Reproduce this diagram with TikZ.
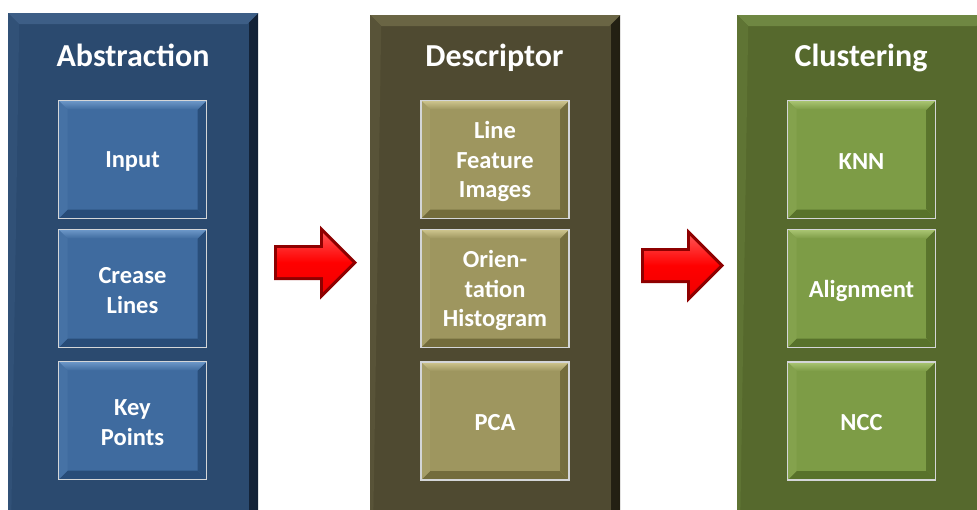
\documentclass[tikz,border=0pt]{standalone}
\usepackage{fontspec}
\setmainfont{Carlito}
\usetikzlibrary{calc}
\definecolor{panA}{HTML}{2B4A6F}
\definecolor{panAtop}{HTML}{3D5E86}
\definecolor{panAdark}{HTML}{122136}
\definecolor{inA}{HTML}{3F6B9F}
\definecolor{inAtop}{HTML}{6E98C9}
\definecolor{inAbot}{HTML}{284C78}
\definecolor{panB}{HTML}{4F4A31}
\definecolor{panBtop}{HTML}{6A6544}
\definecolor{panBdark}{HTML}{221F12}
\definecolor{inB}{HTML}{9E965F}
\definecolor{inBtop}{HTML}{CFC68F}
\definecolor{inBbot}{HTML}{736C3C}
\definecolor{panC}{HTML}{56692D}
\definecolor{panCtop}{HTML}{6F8742}
\definecolor{panCdark}{HTML}{263212}
\definecolor{inC}{HTML}{7D9C46}
\definecolor{inCtop}{HTML}{AAC674}
\definecolor{inCbot}{HTML}{58722B}
\definecolor{edgeline}{HTML}{D4D6D8}
\definecolor{arrdark}{HTML}{8E0000}
\definecolor{arrlight}{HTML}{FF5050}
\definecolor{arrred}{HTML}{F00000}
\begin{document}
\begin{tikzpicture}[x=1pt,y=-1pt,
  panel/.style n args={3}{fill=#1, draw=none, minimum width=250pt, minimum height=510pt,
    inner sep=0pt, anchor=north west,
    path picture={
      \shade[left color=#1, right color=#3]
        ([xshift=-9pt]path picture bounding box.north east) rectangle (path picture bounding box.south east);
      \fill[#2] (path picture bounding box.north west) -- (path picture bounding box.north east)
        -- ([xshift=-11pt,yshift=-11pt]path picture bounding box.north east)
        -- ([xshift=11pt,yshift=-11pt]path picture bounding box.north west) -- cycle;
      \fill[#2!35!#1] (path picture bounding box.north west)
        -- ([xshift=11pt,yshift=-11pt]path picture bounding box.north west)
        -- ([xshift=3pt]path picture bounding box.south west)
        -- (path picture bounding box.south west) -- cycle;
    }},
  inbox/.style n args={3}{fill=#1, draw=edgeline, line width=1.6pt,
    minimum width=148pt, minimum height=118pt, inner sep=0pt, align=center,
    text=white, font=\fontsize{24.5}{29.5}\selectfont\bfseries,
    path picture={
      \shade[left color=#1, right color=#3]
        (path picture bounding box.north east) -- (path picture bounding box.south east)
        -- ([xshift=-9pt,yshift=9pt]path picture bounding box.south east)
        -- ([xshift=-9pt,yshift=-9pt]path picture bounding box.north east) -- cycle;
      \fill[#3] (path picture bounding box.south west) -- (path picture bounding box.south east)
        -- ([xshift=-9pt,yshift=9pt]path picture bounding box.south east)
        -- ([xshift=9pt,yshift=9pt]path picture bounding box.south west) -- cycle;
      \shade[top color=#2, bottom color=#1]
        (path picture bounding box.north west) -- (path picture bounding box.north east)
        -- ([xshift=-9pt,yshift=-9pt]path picture bounding box.north east)
        -- ([xshift=9pt,yshift=-9pt]path picture bounding box.north west) -- cycle;
      \fill[#1!85!#2] (path picture bounding box.north west)
        -- ([xshift=9pt,yshift=-9pt]path picture bounding box.north west)
        -- ([xshift=9pt,yshift=9pt]path picture bounding box.south west)
        -- (path picture bounding box.south west) -- cycle;
    }},
  boxtext/.style={text=white, font=\fontsize{24.5}{29.5}\selectfont\bfseries, align=center, inner sep=0pt},
  title/.style={text=white, font=\fontsize{32}{36}\selectfont\bfseries, inner sep=0pt},
  pics/blockarrow/.style={code={
    \fill[arrdark] (0,-17.5) -- (46,-17.5) -- (46,-37) -- (83,0) -- (46,37) -- (46,17.5)
      -- (0,17.5) -- cycle;
    \shade[top color=arrlight, bottom color=arrred, middle color=red]
      (3,-14.5) -- (49,-14.5) -- (49,-29.5) -- (78.5,0) -- (49,29.5) -- (49,14.5)
      -- (3,14.5) -- cycle;
  }}
]
\clip (0,0) rectangle (977,509);
\fill[white] (0,0) rectangle (977,509);

% panels
\node[panel={panA}{panAtop}{panAdark}] (pA) at (8,13) {};
\node[panel={panB}{panBtop}{panBdark}] (pB) at (370,15) {};
\node[panel={panC}{panCtop}{panCdark}] (pC) at (737,15) {};

% titles
\node[title] (tA) at (133,55) {Abstraction};
\node[title] (tB) at (494.5,58) {Descriptor};
\node[title] (tC) at (861,58) {Clustering};

% inner boxes
\node[inbox={inA}{inAtop}{inAbot}] (a1) at (132.5,159.5) {};
\node[inbox={inA}{inAtop}{inAbot}] (a2) at (132.5,288.5) {};
\node[inbox={inA}{inAtop}{inAbot}] (a3) at (132.5,420.5) {};
\node[inbox={inB}{inBtop}{inBbot}] (b1) at (495,159.5) {};
\node[inbox={inB}{inBtop}{inBbot}] (b2) at (495,288.5) {};
\node[inbox={inB}{inBtop}{inBbot}] (b3) at (495,421) {};
\node[inbox={inC}{inCtop}{inCbot}] (c1) at (861.5,159.5) {};
\node[inbox={inC}{inCtop}{inCbot}] (c2) at (861.5,288.5) {};
\node[inbox={inC}{inCtop}{inCbot}] (c3) at (861.5,421) {};

% box texts
\node[boxtext] (la1) at ([yshift=-2pt]a1.center) {Input};
\node[boxtext] (la2) at ([yshift=-2pt]a2.center) {Crease\\Lines};
\node[boxtext] (la3) at ([yshift=-2pt]a3.center) {Key\\Points};
\node[boxtext] (lb1) at ([yshift=-2pt]b1.center) {Line\\Feature\\Images};
\node[boxtext] (lb2) at ([yshift=-2pt]b2.center) {Orien-\\tation\\Histogram};
\node[boxtext] (lb3) at ([yshift=-2pt]b3.center) {PCA};
\node[boxtext] (lc1) at ([yshift=-2pt]c1.center) {KNN};
\node[boxtext] (lc2) at ([yshift=-2pt]c2.center) {Alignment};
\node[boxtext] (lc3) at ([yshift=-2pt]c3.center) {NCC};

% arrows
\pic at (274,262.5) {blockarrow};
\pic at (641,265.5) {blockarrow};
\end{tikzpicture}
\end{document}
